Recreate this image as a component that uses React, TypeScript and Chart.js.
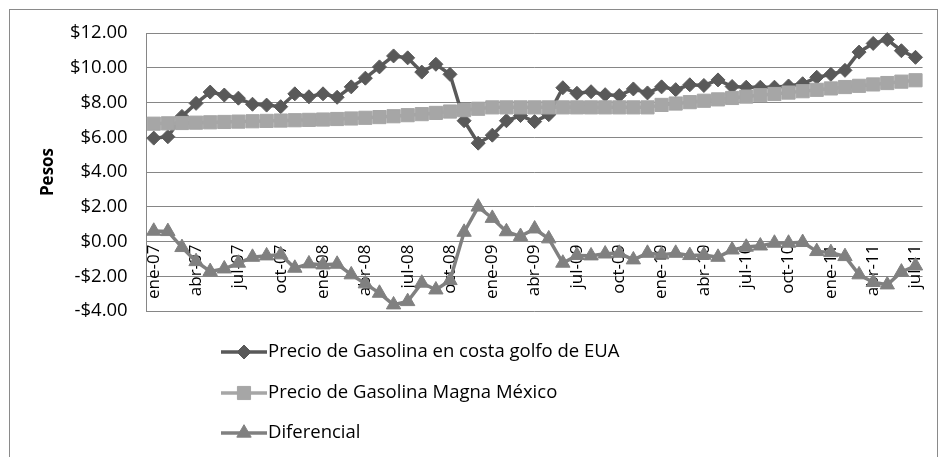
import React, { useEffect, useRef } from 'react';
import { Chart, registerables } from 'chart.js';
import { drawPoint } from 'chart.js/helpers';

Chart.register(...registerables);

const categories = [
  'ene-07', 'feb-07', 'mar-07', 'abr-07', 'may-07', 'jun-07', 'jul-07', 'ago-07', 'sep-07', 'oct-07', 'nov-07', 'dic-07',
  'ene-08', 'feb-08', 'mar-08', 'abr-08', 'may-08', 'jun-08', 'jul-08', 'ago-08', 'sep-08', 'oct-08', 'nov-08', 'dic-08',
  'ene-09', 'feb-09', 'mar-09', 'abr-09', 'may-09', 'jun-09', 'jul-09', 'ago-09', 'sep-09', 'oct-09', 'nov-09', 'dic-09',
  'ene-10', 'feb-10', 'mar-10', 'abr-10', 'may-10', 'jun-10', 'jul-10', 'ago-10', 'sep-10', 'oct-10', 'nov-10', 'dic-10',
  'ene-11', 'feb-11', 'mar-11', 'abr-11', 'may-11', 'jun-11', 'jul-11',
];

const shownTickLabels = [
  'ene-07', 'abr-07', 'jul-07', 'oct-07', 'ene-08', 'abr-08', 'jul-08', 'oct-08', 'ene-09', 'abr-09',
  'jul-09', 'oct-09', 'ene-10', 'abr-10', 'jul-10', 'oct-10', 'ene-11', 'abr-11', 'jul-11',
];

const usaPrice = [
  5.95, 6.03, 7.2, 7.95, 8.6, 8.43, 8.25, 7.9, 7.85, 7.76, 8.5, 8.33,
  8.5, 8.3, 8.9, 9.4, 10.05, 10.68, 10.57, 9.75, 10.2, 9.62, 6.95, 5.66,
  6.12, 6.95, 7.25, 6.9, 7.3, 8.85, 8.53, 8.62, 8.45, 8.4, 8.78, 8.55,
  8.9, 8.74, 9.02, 8.98, 9.3, 8.92, 8.88, 8.88, 8.88, 8.95, 9.08, 9.45,
  9.62, 9.85, 10.9, 11.4, 11.62, 10.98, 10.6,
];

const magnaPrice = [
  6.78, 6.8, 6.82, 6.84, 6.86, 6.88, 6.9, 6.92, 6.94, 6.96, 6.98, 7.0,
  7.02, 7.05, 7.08, 7.12, 7.16, 7.21, 7.27, 7.33, 7.4, 7.48, 7.56, 7.64,
  7.72, 7.72, 7.72, 7.72, 7.72, 7.72, 7.72, 7.72, 7.72, 7.72, 7.72, 7.72,
  7.86, 7.94, 8.02, 8.1, 8.18, 8.26, 8.34, 8.42, 8.49, 8.57, 8.65, 8.73,
  8.81, 8.89, 8.96, 9.04, 9.12, 9.2, 9.28,
];

const diferencial = [
  0.6, 0.58, -0.34, -1.15, -1.72, -1.57, -1.24, -0.9, -0.82, -0.76, -1.53, -1.28,
  -1.34, -1.3, -1.91, -2.43, -2.97, -3.64, -3.45, -2.39, -2.78, -2.24, 0.54, 1.99,
  1.34, 0.57, 0.3, 0.73, 0.16, -1.24, -0.8, -0.82, -0.71, -0.67, -1.05, -0.67,
  -0.76, -0.67, -0.8, -0.78, -0.9, -0.48, -0.32, -0.25, -0.09, -0.09, -0.05, -0.57,
  -0.63, -0.86, -1.91, -2.35, -2.49, -1.75, -1.4,
];

const seriesNames = [
  'Precio de Gasolina en costa golfo de EUA',
  'Precio de Gasolina Magna México',
  'Diferencial',
];

const yMin = -4;
const yMax = 12;
const yStep = 2;
const yAxisTitle = 'Pesos';

const FONT = '"Open Sans", "Noto Sans", sans-serif';
const GRID = '#868686';

const borderPlugin = {
  id: 'outerBorder',
  beforeDraw(chart: any) {
    const ctx = chart.ctx;
    ctx.save();
    ctx.strokeStyle = '#8a8a8a';
    ctx.lineWidth = 1;
    ctx.strokeRect(9.5, 9.5, 928, 460);
    ctx.restore();
  },
};

const stackedLegendPlugin = {
  id: 'stackedLegend',
  afterDraw(chart: any) {
    const ctx = chart.ctx;
    const x0 = 221;
    const x1 = 267;
    const tx = 268;
    const rows = [352, 393, 433];
    chart.data.datasets.forEach((ds: any, i: number) => {
      const y = rows[i];
      ctx.save();
      ctx.strokeStyle = ds.borderColor;
      ctx.lineWidth = ds.borderWidth;
      ctx.beginPath();
      ctx.moveTo(x0, y);
      ctx.lineTo(x1, y);
      ctx.stroke();
      ctx.fillStyle = ds.pointBackgroundColor;
      ctx.strokeStyle = ds.pointBorderColor;
      ctx.lineWidth = 1;
      drawPoint(ctx, { pointStyle: ds.pointStyle, radius: ds.pointRadius, rotation: 0, borderWidth: 1 } as any, (x0 + x1) / 2, y);
      ctx.fillStyle = '#000';
      ctx.font = `18.5px ${FONT}`;
      ctx.textAlign = 'left';
      ctx.textBaseline = 'middle';
      ctx.fillText(ds.label, tx, y);
      ctx.restore();
    });
  },
};

export default function App() {
  const ref = useRef<HTMLCanvasElement>(null);

  useEffect(() => {
    if (!ref.current) return;
    const chart = new Chart(ref.current, {
      type: 'line',
      data: {
        labels: categories,
        datasets: [
          {
            label: seriesNames[0],
            data: usaPrice,
            borderColor: '#595959',
            backgroundColor: '#595959',
            pointBackgroundColor: '#595959',
            pointBorderColor: '#595959',
            borderWidth: 3.5,
            pointStyle: 'rectRot',
            pointRadius: 7,
            pointBorderWidth: 1,
            tension: 0,
            order: 3,
            clip: false,
          } as any,
          {
            label: seriesNames[1],
            data: magnaPrice,
            borderColor: '#A6A6A6',
            backgroundColor: '#A6A6A6',
            pointBackgroundColor: '#A6A6A6',
            pointBorderColor: '#A6A6A6',
            borderWidth: 3.5,
            pointStyle: 'rect',
            pointRadius: 9.3,
            pointBorderWidth: 1,
            tension: 0,
            order: 2,
            clip: false,
          } as any,
          {
            label: seriesNames[2],
            data: diferencial,
            borderColor: '#808080',
            backgroundColor: '#808080',
            pointBackgroundColor: '#808080',
            pointBorderColor: '#808080',
            borderWidth: 3.5,
            pointStyle: 'triangle',
            pointRadius: 8.3,
            pointBorderWidth: 1,
            tension: 0,
            order: 1,
            clip: false,
          } as any,
        ],
      },
      options: {
        responsive: false,
        maintainAspectRatio: false,
        animation: false,
        devicePixelRatio: 1,
        layout: { padding: { left: 38, top: 33, right: 10.7, bottom: 146 } },
        plugins: {
          legend: { display: false },
          tooltip: { enabled: false },
        },
        scales: {
          x: {
            type: 'category',
            position: { y: 0 } as any,
            offset: true,
            grid: { display: false, drawTicks: false },
            border: { display: false },
            ticks: {
              autoSkip: false,
              minRotation: 90,
              maxRotation: 90,
              padding: 3,
              color: '#000',
              font: { family: FONT, size: 17 },
              callback: function (this: any, value: any, index: number) {
                const lab = categories[index];
                return shownTickLabels.includes(lab) ? lab : '';
              },
            },
          },
          y: {
            type: 'linear',
            position: 'left',
            min: yMin,
            max: yMax,
            afterFit: (scale: any) => {
              scale.width = 108.7;
            },
            grid: { color: GRID, lineWidth: 1, drawTicks: false },
            border: { display: true, color: GRID, width: 1 },
            ticks: {
              stepSize: yStep,
              padding: 19,
              color: '#000',
              font: { family: FONT, size: 18.5 },
              callback: (v: any) => {
                const n = Number(v);
                return (n < 0 ? '-$' : '$') + Math.abs(n).toFixed(2);
              },
            },
            title: {
              display: true,
              text: yAxisTitle,
              color: '#000',
              padding: 0,
              font: { family: FONT, size: 17, weight: 'bold' },
            },
          },
        },
      },
      plugins: [borderPlugin, stackedLegendPlugin],
    });
    return () => chart.destroy();
  }, []);

  return (
    <div style={{ position: 'absolute', left: 0, top: 0, width: 939, height: 457, background: '#fff' }}>
      <canvas ref={ref} width={939} height={457} style={{ display: 'block', width: 939, height: 457 }} />
    </div>
  );
}
